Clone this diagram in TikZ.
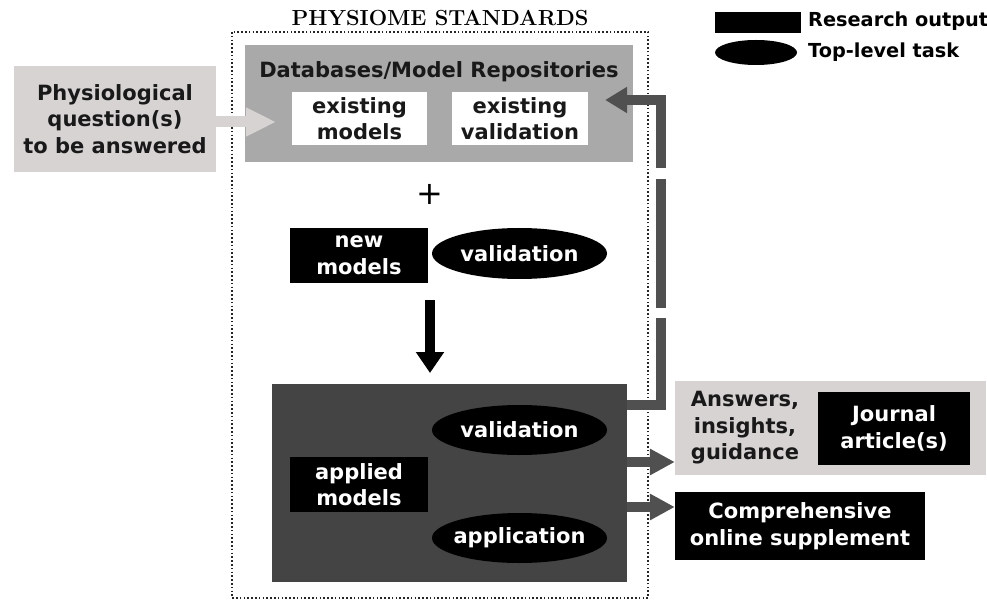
\documentclass[tikz,border=0pt]{standalone}
\usepackage{fontspec}
\newfontfamily\lblfont{DejaVu Sans}[BoldFont={DejaVu Sans Bold}]
\usetikzlibrary{arrows.meta,shapes.geometric}

\definecolor{qgray}{HTML}{D8D3D3}
\definecolor{dbgray}{HTML}{A9A9A9}
\definecolor{apgray}{HTML}{444444}
\definecolor{flowgray}{HTML}{505050}

\tikzset{
  lbl/.style={font=\lblfont\bfseries\fontsize{21}{26.5}\selectfont, align=center, inner sep=0pt},
  legendlbl/.style={font=\lblfont\bfseries\fontsize{19.3}{22}\selectfont, inner sep=0pt},
  whitebox/.style={lbl, fill=white, text=black!90, minimum width=136pt, minimum height=53pt},
  outbox/.style={lbl, fill=black, text=white},
  taskoval/.style={lbl, ellipse, fill=black, text=white, inner xsep=-12pt, minimum width=175pt, minimum height=51pt},
  fatarrow/.style={line width=10pt, -{Triangle[length=25pt,width=25pt]}, flowgray},
}

\begin{document}
\begin{tikzpicture}[x=1pt, y=-1pt]
\useasboundingbox (0,0) rectangle (987,601);

% outer dotted frame and its title
\draw[line width=1.4pt, dash pattern=on 1.6pt off 2.2pt, black!85] (232,32) rectangle (648,598);
\node[fill=white, font=\bfseries\fontsize{21.8}{24}\selectfont, anchor=base, inner sep=0pt] (title) at (440,26) {PHYSIOME STANDARDS};

% question box
\node[lbl, fill=qgray, text=black!90, minimum width=202pt, minimum height=106pt] (q) at (115,119)
  {Physiological\\question(s)\\to be answered};

% repositories panel
\node[fill=dbgray, minimum width=388pt, minimum height=117pt, inner sep=0pt] (db) at (439,103.5) {};
\node[lbl, text=black!90] (dbt) at (439,72) {Databases/Model Repositories};
\node[whitebox, minimum width=135pt] (em) at (359.5,118.5) {existing\\models};
\node[whitebox] (ev) at (520,118.5) {existing\\validation};

% light arrow from question to repositories
\draw[line width=11pt, qgray, -{Triangle[length=30pt,width=27pt]}] (q.east |- 0,122) -- (276,122);

% plus
\node[font=\lblfont\fontsize{32}{34}\selectfont, inner sep=0pt] (plus) at (430,194) {+};

% new models and validation
\node[outbox, minimum width=138pt, minimum height=55pt] (nm) at (359,255.5) {new\\models};
\node[taskoval] (v1) at (519.5,253.5) {validation};

% down arrow
\coordinate (dtop) at (430,300);
\coordinate (dbot) at (430,373);
\draw[line width=10pt, -{Triangle[length=21pt,width=27pt]}] (dtop) -- (dbot);

% applied models panel
\node[fill=apgray, minimum width=355pt, minimum height=198pt, inner sep=0pt] (ap) at (449.5,483) {};
\node[taskoval, minimum height=50pt] (v2) at (519.5,430) {validation};
\node[outbox, minimum width=138pt, minimum height=55pt] (am) at (359,484.5) {applied\\models};
\node[taskoval, minimum height=50pt] (app) at (519.5,538) {application};

% outputs
\node[fill=qgray, minimum width=311pt, minimum height=94pt, inner sep=0pt] (ans) at (830.5,428) {};
\node[lbl, text=black!90] (anst) at (745,428) {Answers,\\insights,\\guidance};
\node[outbox, minimum width=152pt, minimum height=73pt] (ja) at (894,428.5) {Journal\\article(s)};
\node[outbox, minimum width=250pt, minimum height=68pt] (sup) at (800,526) {Comprehensive\\online supplement};

% arrows to the outputs
\draw[fatarrow] (ap.east |- 0,462) -- (ans.west |- 0,462);
\draw[fatarrow] (ap.east |- 0,507) -- (sup.west |- 0,507);

% feedback loop back to the repositories
\draw[line width=10pt, flowgray, line join=miter,
      dash pattern=on 121pt off 10pt on 129pt off 11pt on 400pt,
      -{Triangle[length=22pt,width=25pt]}]
  (ap.east |- 0,405) -- (661,405) -- (661,100) -- (db.east |- 0,100) -- ++(-28,0);

% legend
\node[fill=black, minimum width=86pt, minimum height=21pt, inner sep=0pt] (lgr) at (758,22.5) {};
\node[ellipse, fill=black, minimum width=82pt, minimum height=25pt, inner sep=0pt] (lge) at (756,52.5) {};
\node[legendlbl, anchor=west] (lgrt) at (808,21) {Research output};
\node[legendlbl, anchor=west] (lget) at (808,52) {Top-level task};
\end{tikzpicture}
\end{document}
